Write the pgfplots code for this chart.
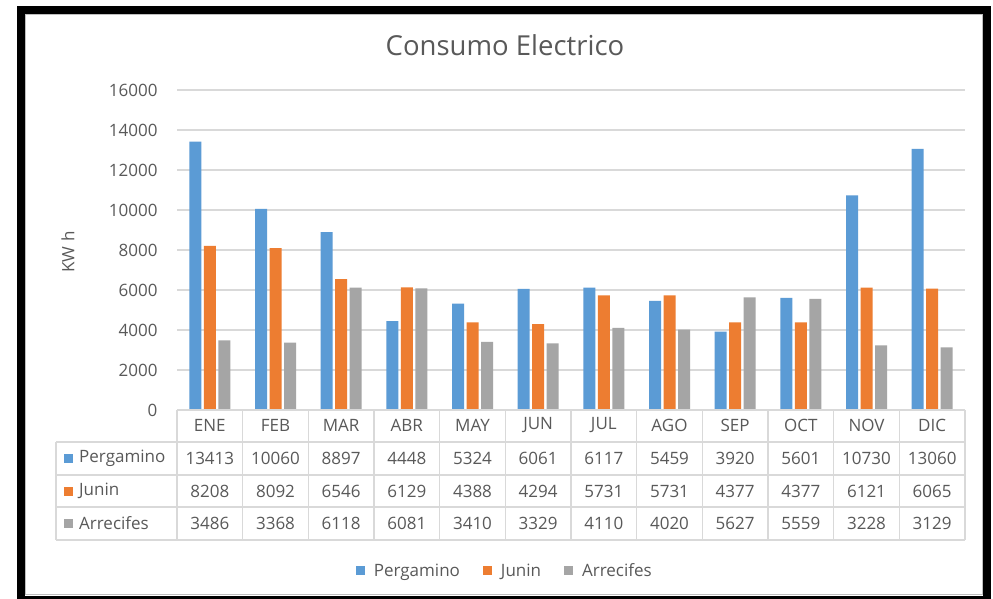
\documentclass[border=0pt]{standalone}
\usepackage{pgfplots}
\pgfplotsset{compat=1.18}
\usepackage{pgfplotstable}
\usepackage{fontspec}
\setmainfont{Open Sans}
\definecolor{cblue}{HTML}{5B9BD5}
\definecolor{corange}{HTML}{ED7D31}
\definecolor{cgray}{HTML}{A5A5A5}
\definecolor{gridc}{HTML}{D9D9D9}
\definecolor{txt}{HTML}{595959}

\pgfplotstableread{
x P J A
0 13413 8208 3486
1 10060 8092 3368
2 8897 6546 6118
3 4448 6129 6081
4 5324 4388 3410
5 6061 4294 3329
6 6117 5731 4110
7 5459 5731 4020
8 3920 4377 5627
9 5601 4377 5559
10 10730 6121 3228
11 13060 6065 3129
}\data

\newcommand{\tf}{\fontsize{17}{20}\selectfont}

\begin{document}
\begin{tikzpicture}
\useasboundingbox (0pt,0pt) rectangle (993pt,-598pt);
\fill[white] (0pt,0pt) rectangle (993pt,-598pt);

\begin{axis}[
  at={(177pt,-410pt)}, anchor=south west,
  width=788pt, height=320pt, scale only axis,
  xmin=-0.5, xmax=11.5, ymin=0, ymax=16000,
  axis line style={draw=none},
  major tick style={draw=none},
  ymajorgrids, grid style={gridc, line width=1.2pt},
  ytick={0,2000,...,16000},
  scaled y ticks=false,
  /pgf/number format/assume math mode=true,
  yticklabel style={text=txt, font=\tf, /pgf/number format/1000 sep={}, xshift=-16pt},
  xtick={0,...,11},
  xticklabels={ENE,FEB,MAR,ABR,MAY,JUN,JUL,AGO,SEP,OCT,NOV,DIC},
  xticklabel style={text=txt, font=\tf, anchor=center, yshift=-11pt},
  ybar=2.5pt, bar width=12pt,
  legend style={at={(0.416,-0.503)}, anchor=center, draw=none, fill=none,
    legend columns=3, font=\tf, text=txt,
    /tikz/every odd column/.append style={column sep=7pt},
    /tikz/every even column/.append style={column sep=21pt}},
  legend image code/.code={\path[#1] (0pt,-4.5pt) rectangle (9pt,4.5pt);},
]
\addplot[fill=cblue, draw=none] table[x=x,y=P]{\data};
\addplot[fill=corange, draw=none] table[x=x,y=J]{\data};
\addplot[fill=cgray, draw=none] table[x=x,y=A]{\data};
\legend{Pergamino, Junin, Arrecifes}
\end{axis}

% data table grid
\begin{scope}[draw=gridc, line width=1.2pt]
\draw (177pt,-410pt) -- (965pt,-410pt);
\foreach \yy in {442,475,507,540}{\draw (56pt,-\yy pt) -- (965pt,-\yy pt);}
\draw (56pt,-442pt) -- (56pt,-540pt);
\foreach \k in {0,...,12}{
  \pgfmathsetmacro\cx{177+65.667*\k}
  \draw (\cx pt,-410pt) -- (\cx pt,-540pt);
}
\end{scope}

\foreach \k in {0,...,11}{
  \pgfmathsetmacro\cx{177+65.667*(\k+0.5)}
  \pgfplotstablegetelem{\k}{P}\of\data
  \node[text=txt, font=\tf] at (\cx pt,-458.5pt) {\pgfplotsretval};
  \pgfplotstablegetelem{\k}{J}\of\data
  \node[text=txt, font=\tf] at (\cx pt,-491pt) {\pgfplotsretval};
  \pgfplotstablegetelem{\k}{A}\of\data
  \node[text=txt, font=\tf] at (\cx pt,-523.5pt) {\pgfplotsretval};
}

% row labels
\fill[cblue] (64pt,-454pt) rectangle (73pt,-463pt);
\node[text=txt, font=\tf, anchor=west, inner sep=0pt] at (79pt,-458.5pt) {Pergamino};
\fill[corange] (64pt,-486.5pt) rectangle (73pt,-495.5pt);
\node[text=txt, font=\tf, anchor=west, inner sep=0pt] at (79pt,-491pt) {Junin};
\fill[cgray] (64pt,-519pt) rectangle (73pt,-528pt);
\node[text=txt, font=\tf, anchor=west, inner sep=0pt] at (79pt,-523.5pt) {Arrecifes};

% axis title and chart title
\node[text=txt, font=\tf, rotate=90] at (68pt,-252pt) {KW h};
\node[text=txt, font=\fontsize{27.5}{32}\selectfont] at (505pt,-45pt) {Consumo Electrico};

% frame
\draw[gray!50, line width=0.8pt] (25.5pt,-14.5pt) rectangle (982.5pt,-594.5pt);
\draw[black, line width=8pt] (21pt,-10pt) rectangle (986.5pt,-599.5pt);
\end{tikzpicture}
\end{document}
